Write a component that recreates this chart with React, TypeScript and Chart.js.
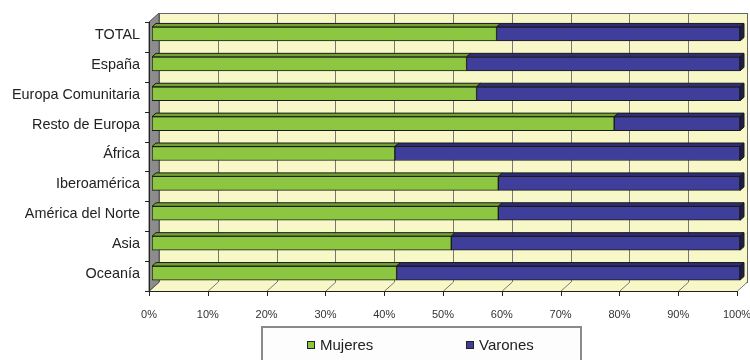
import React, { useEffect, useRef } from 'react';
import { Chart, registerables } from 'chart.js';

Chart.register(...registerables);

const categories = ['TOTAL', 'España', 'Europa Comunitaria', 'Resto de Europa', 'África', 'Iberoamérica', 'América del Norte', 'Asia', 'Oceanía'];
const mujeres = [58.6, 53.5, 55.2, 78.6, 41.3, 58.9, 58.9, 50.9, 41.6];
const varones = [41.4, 46.5, 44.8, 21.4, 58.7, 41.1, 41.1, 49.1, 58.4];
const seriesNames = ['Mujeres', 'Varones'];
const xTickValues = [0, 10, 20, 30, 40, 50, 60, 70, 80, 90, 100];
const xTickLabels = ['0%', '10%', '20%', '30%', '40%', '50%', '60%', '70%', '80%', '90%', '100%'];

const FONT = "'Liberation Sans', Arial, sans-serif";
const frontColors = ['#8DC641', '#3F3F9B'];
const topColors = ['#72A232', '#2D2D78'];
const sideColor = '#1E1E4E';
const wallYellow = '#F7F7C8';
const FRONT = { dx: -3, dy: 3 };
const BACK = { dx: 7, dy: -6 };
const BAR_DEPTH = { dx: 4, dy: -3.5 };

const wallsPlugin = {
  id: 'walls3d',
  beforeDatasetsDraw(chart: any) {
    const { ctx, chartArea: a, scales } = chart;
    const x = scales.x;
    const y = scales.y;
    const fl = a.left + FRONT.dx, fr = a.right + FRONT.dx, ft = a.top + FRONT.dy, fb = a.bottom + FRONT.dy;
    const bl = a.left + BACK.dx, br = a.right + BACK.dx, bt = a.top + BACK.dy, bb = a.bottom + BACK.dy;
    ctx.save();
    // back wall
    ctx.fillStyle = wallYellow;
    ctx.fillRect(bl, bt, br - bl, bb - bt);
    ctx.strokeStyle = '#777';
    ctx.lineWidth = 1;
    xTickValues.forEach((v) => {
      const px = Math.round(x.getPixelForValue(v) + BACK.dx) + 0.5;
      ctx.beginPath();
      ctx.moveTo(px, bt);
      ctx.lineTo(px, bb);
      ctx.stroke();
    });
    ctx.strokeStyle = '#666';
    ctx.strokeRect(bl + 0.5, bt + 0.5, br - bl, bb - bt);
    // floor
    ctx.fillStyle = wallYellow;
    ctx.beginPath();
    ctx.moveTo(fl, fb);
    ctx.lineTo(fr, fb);
    ctx.lineTo(br, bb);
    ctx.lineTo(bl, bb);
    ctx.closePath();
    ctx.fill();
    ctx.strokeStyle = '#777';
    xTickValues.forEach((v) => {
      const px = x.getPixelForValue(v);
      ctx.beginPath();
      ctx.moveTo(px + FRONT.dx + 0.5, fb);
      ctx.lineTo(px + BACK.dx + 0.5, bb);
      ctx.stroke();
    });
    // left wall
    ctx.fillStyle = '#8C8C8C';
    ctx.beginPath();
    ctx.moveTo(fl, ft);
    ctx.lineTo(bl, bt);
    ctx.lineTo(bl, bb);
    ctx.lineTo(fl, fb);
    ctx.closePath();
    ctx.fill();
    ctx.strokeStyle = '#555';
    ctx.stroke();
    // axes
    ctx.strokeStyle = '#222';
    ctx.beginPath();
    ctx.moveTo(fl, fb + 0.5);
    ctx.lineTo(fr, fb + 0.5);
    ctx.moveTo(fl + 0.5, ft);
    ctx.lineTo(fl + 0.5, fb + 5);
    ctx.stroke();
    xTickValues.forEach((v) => {
      const px = Math.round(x.getPixelForValue(v) + FRONT.dx) + 0.5;
      ctx.beginPath();
      ctx.moveTo(px, fb);
      ctx.lineTo(px, fb + 5);
      ctx.stroke();
    });
    for (let i = 0; i <= categories.length; i++) {
      const py = Math.round(y.getPixelForValue(i - 0.5) + FRONT.dy) + 0.5;
      ctx.beginPath();
      ctx.moveTo(fl - 4, py);
      ctx.lineTo(fl, py);
      ctx.stroke();
    }
    ctx.restore();
  },
  afterDatasetsDraw(chart: any) {
    const { ctx } = chart;
    const n = chart.data.datasets.length;
    ctx.save();
    ctx.strokeStyle = '#1a1a1a';
    ctx.lineWidth = 1;
    for (let d = 0; d < n; d++) {
      const meta = chart.getDatasetMeta(d);
      meta.data.forEach((el: any) => {
        const p = el.getProps(['x', 'y', 'base', 'height'], true);
        const top = p.y - p.height / 2;
        const bottom = p.y + p.height / 2;
        const left = Math.min(p.x, p.base);
        const right = Math.max(p.x, p.base);
        ctx.fillStyle = topColors[d];
        ctx.beginPath();
        ctx.moveTo(left, top);
        ctx.lineTo(right, top);
        ctx.lineTo(right + BAR_DEPTH.dx, top + BAR_DEPTH.dy);
        ctx.lineTo(left + BAR_DEPTH.dx, top + BAR_DEPTH.dy);
        ctx.closePath();
        ctx.fill();
        ctx.stroke();
        if (d === n - 1) {
          ctx.fillStyle = sideColor;
          ctx.beginPath();
          ctx.moveTo(right, top);
          ctx.lineTo(right + BAR_DEPTH.dx, top + BAR_DEPTH.dy);
          ctx.lineTo(right + BAR_DEPTH.dx, bottom + BAR_DEPTH.dy);
          ctx.lineTo(right, bottom);
          ctx.closePath();
          ctx.fill();
          ctx.stroke();
        }
      });
    }
    ctx.restore();
  },
  afterDraw(chart: any) {
    const { ctx } = chart;
    ctx.save();
    ctx.fillStyle = '#FDFDFD';
    ctx.fillRect(262, 327, 319, 40);
    ctx.strokeStyle = '#8A8A8A';
    ctx.lineWidth = 2;
    ctx.strokeRect(262, 327, 319, 40);
    const items = [307, 466];
    ctx.font = `15px ${FONT}`;
    ctx.textBaseline = 'middle';
    ctx.textAlign = 'left';
    chart.data.datasets.forEach((ds: any, i: number) => {
      const sx = items[i];
      ctx.fillStyle = ds.backgroundColor;
      ctx.fillRect(sx + 0.5, 341.5, 7, 7);
      ctx.strokeStyle = '#222';
      ctx.lineWidth = 1;
      ctx.strokeRect(sx + 0.5, 341.5, 7, 7);
      ctx.fillStyle = '#222';
      ctx.fillText(ds.label, sx + 13, 345.5);
    });
    ctx.restore();
  },
};

export default function App() {
  const ref = useRef<HTMLCanvasElement>(null);
  useEffect(() => {
    if (!ref.current) return;
    const chart = new Chart(ref.current, {
      type: 'bar',
      data: {
        labels: categories,
        datasets: [
          { label: seriesNames[0], data: mujeres, backgroundColor: frontColors[0], borderColor: '#1a1a1a', borderWidth: 1, borderSkipped: false, barThickness: 14 },
          { label: seriesNames[1], data: varones, backgroundColor: frontColors[1], borderColor: '#1a1a1a', borderWidth: 1, borderSkipped: false, barThickness: 14 },
        ],
      },
      options: {
        indexAxis: 'y',
        responsive: false,
        animation: false,
        events: [],
        layout: { padding: { left: 0, right: 20, top: 19, bottom: 0 } },
        plugins: { legend: { display: false }, tooltip: { enabled: false } },
        scales: {
          x: {
            stacked: true,
            min: 0,
            max: 100,
            afterBuildTicks: (s: any) => { s.ticks = xTickValues.map((v) => ({ value: v })); },
            afterFit: (s: any) => { s.height = 72; s.paddingLeft = 0; s.paddingRight = 0; },
            ticks: {
              callback: (_v: any, i: number) => xTickLabels[i],
              font: { family: FONT, size: 11 },
              color: '#333',
              padding: 20,
              labelOffset: -3,
              maxRotation: 0,
              autoSkip: false,
            },
            grid: { display: false, drawTicks: false },
            border: { display: false },
          },
          y: {
            stacked: true,
            afterFit: (s: any) => { s.width = 152; s.paddingTop = 0; s.paddingBottom = 0; },
            ticks: {
              font: { family: FONT, size: 14.4 },
              color: '#222',
              padding: 12,
              labelOffset: 1,
              autoSkip: false,
            },
            grid: { display: false, drawTicks: false },
            border: { display: false },
          },
        },
      },
      plugins: [wallsPlugin],
    });
    return () => chart.destroy();
  }, []);
  return (
    <div style={{ position: 'fixed', left: 0, top: 0, width: 750, height: 360, overflow: 'hidden', background: '#fff' }}>
      <canvas ref={ref} width={760} height={360} style={{ display: 'block', width: 760, height: 360 }} />
    </div>
  );
}
